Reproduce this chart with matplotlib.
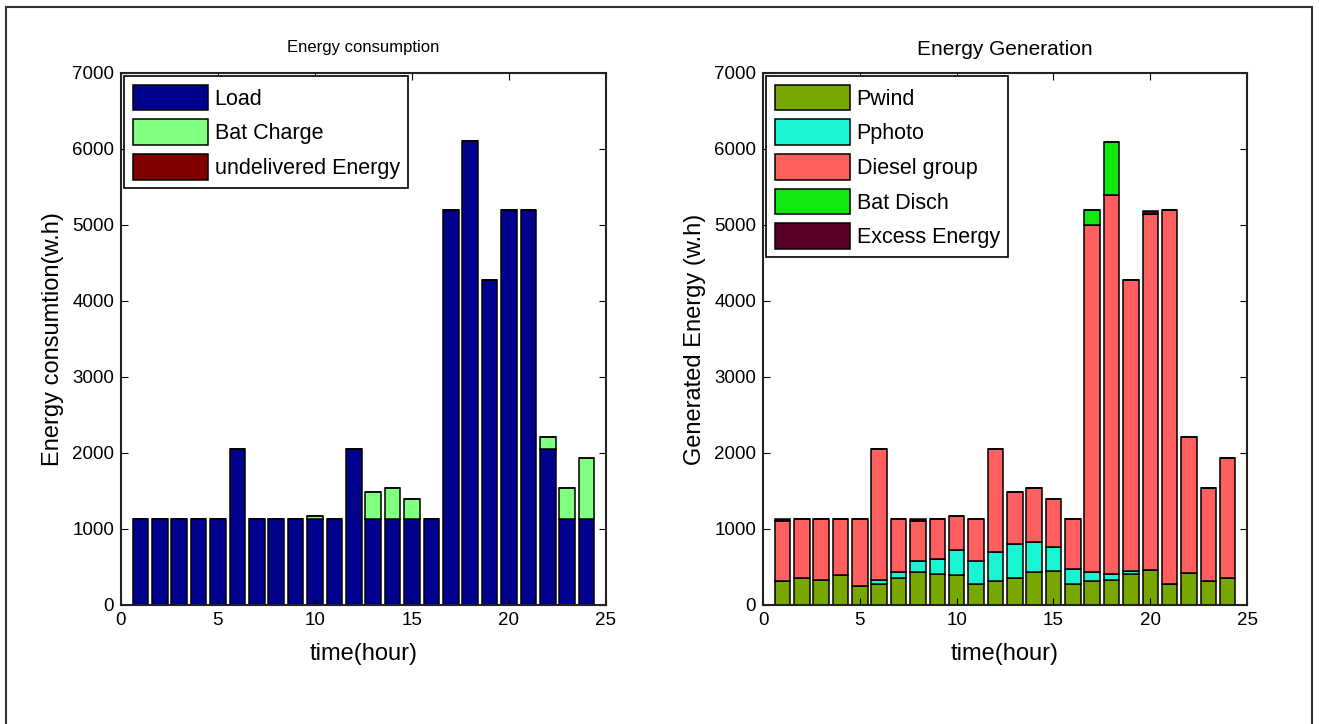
import matplotlib.pyplot as plt
import matplotlib.patches as mpatches
import numpy as np

plt.rcParams['font.family'] = ['Liberation Sans', 'DejaVu Sans']

hours = np.arange(1, 25)

# energy consumption (w.h)
load = [1130, 1130, 1130, 1130, 1130, 2050, 1130, 1130, 1130, 1130, 1130, 2050,
        1130, 1130, 1130, 1130, 5200, 6100, 4280, 5200, 5200, 2050, 1130, 1130]
bat_charge = [0, 0, 0, 0, 0, 0, 0, 0, 0, 40, 0, 0,
              360, 410, 260, 0, 0, 0, 0, 0, 0, 160, 410, 810]
undelivered = [0] * 24

# energy generation (w.h)
pwind = [310, 350, 330, 395, 245, 280, 350, 430, 408, 395, 280, 310,
         350, 430, 452, 280, 310, 330, 408, 460, 280, 417, 310, 350]
pphoto = [0, 0, 0, 0, 0, 50, 80, 153, 197, 333, 303, 383,
          453, 395, 307, 194, 120, 78, 44, 0, 0, 0, 0, 0]
diesel = [795, 780, 800, 735, 885, 1720, 700, 520, 525, 447, 547, 1357,
          687, 715, 631, 656, 4570, 4990, 3828, 4690, 4920, 1793, 1230, 1590]
bat_disch = [0, 0, 0, 0, 0, 0, 0, 0, 0, 0, 0, 0,
             0, 0, 0, 0, 200, 700, 0, 0, 0, 0, 0, 0]
excess = [25, 0, 0, 0, 0, 0, 0, 27, 0, 0, 0, 0,
          0, 0, 0, 0, 0, 0, 0, 30, 0, 0, 0, 0]

fig = plt.figure(figsize=(13.19, 7.24), dpi=100)
ax1 = fig.add_axes([0.0917, 0.1644, 0.3677, 0.7348])
ax2 = fig.add_axes([0.5785, 0.1644, 0.3670, 0.7348])

# outer frame of the picture
fig.patches.append(mpatches.Rectangle((6 / 1319, -0.02), 1306 / 1319, 717 / 724 + 0.02,
                                      transform=fig.transFigure, fill=False,
                                      edgecolor='#333333', linewidth=1.5))

kw = dict(width=0.8, edgecolor='black', linewidth=1.1)

b = np.zeros(24)
ax1.bar(hours, load, bottom=b, color='#00008F', label='Load', **kw)
b += load
ax1.bar(hours, bat_charge, bottom=b, color='#80FF80', label='Bat Charge', **kw)
b += bat_charge
ax1.bar(hours, undelivered, bottom=b, color='#800000', label='undelivered Energy', **kw)

b = np.zeros(24)
series = [(pwind, '#78A800', 'Pwind'), (pphoto, '#19F5D2', 'Pphoto'),
          (diesel, '#FF5F5F', 'Diesel group'), (bat_disch, '#10E810', 'Bat Disch'),
          (excess, '#5A0028', 'Excess Energy')]
for vals, c, name in series:
    ax2.bar(hours, vals, bottom=b, color=c, label=name, **kw)
    b += vals

for ax in (ax1, ax2):
    ax.set_xlim(0, 25)
    ax.set_ylim(0, 7000)
    ax.set_xticks([0, 5, 10, 15, 20, 25])
    ax.set_yticks(range(0, 7001, 1000))
    ax.tick_params(direction='in', top=True, right=True, length=5, labelsize=13.5, pad=5)
    for s in ax.spines.values():
        s.set_linewidth(1.5)
        s.set_color('#222222')
    ax.set_xlabel('time(hour)', fontsize=17, labelpad=10)
    leg = ax.legend(loc='upper left', fontsize=15.5, handlelength=3.5, handleheight=1.45,
                    fancybox=False, framealpha=1, edgecolor='black',
                    borderaxespad=0.15, labelspacing=0.42, handletextpad=0.3,
                    borderpad=0.4)
    leg.get_frame().set_linewidth(1.2)

ax1.set_title('Energy consumption', fontsize=12, pad=15)
ax2.set_title('Energy Generation', fontsize=15, pad=13)
ax1.set_ylabel('Energy consumtion(w.h)', fontsize=17, labelpad=6)
ax2.set_ylabel('Generated Energy (w.h)', fontsize=17, labelpad=6)

fig.savefig('out.png', dpi=100)
